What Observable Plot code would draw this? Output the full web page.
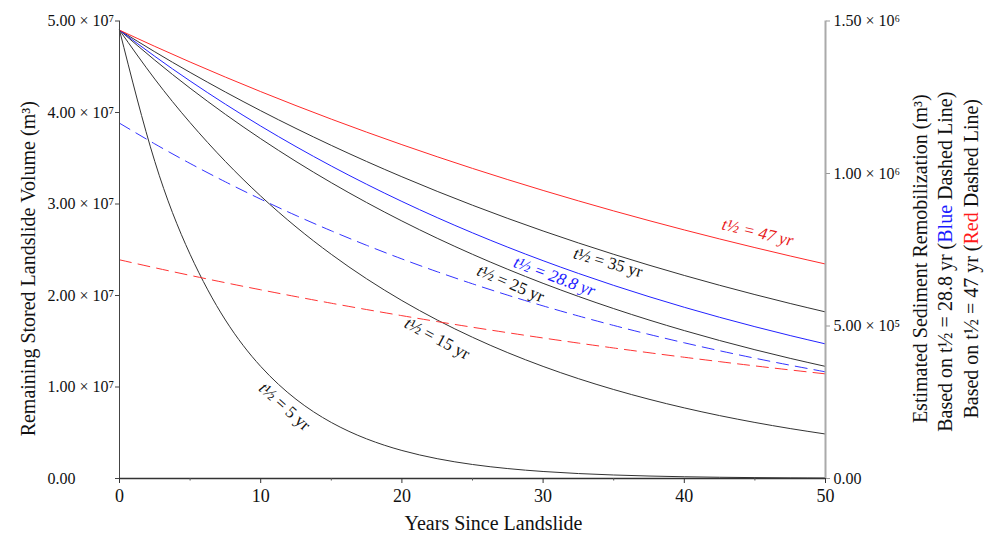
<!DOCTYPE html>
<html><head><meta charset="utf-8">
<script src="https://cdn.jsdelivr.net/npm/d3@7"></script>
<script src="https://cdn.jsdelivr.net/npm/@observablehq/plot@0.6"></script>
<style>body{margin:0;background:#fff} svg{font-family:"Liberation Serif",serif}</style>
</head><body><div id="chart"></div>
<script>
// ---- data ----
const years = [0,2.5,5,7.5,10,12.5,15,17.5,20,22.5,25,27.5,30,32.5,35,37.5,40,42.5,45,47.5,50];
// remaining stored volume, units of 1e7 m3
const vol5   = [4.900,3.465,2.450,1.732,1.225,0.8662,0.6125,0.4331,0.3063,0.2166,0.1531,0.1083,0.0766,0.0541,0.0383,0.0271,0.0191,0.0135,0.0096,0.0068,0.0048];
const vol15  = [4.900,4.3654,3.8891,3.4648,3.0868,2.7500,2.4500,2.1827,1.9446,1.7324,1.5434,1.3750,1.2250,1.0913,0.9723,0.8662,0.7717,0.6875,0.6125,0.5457,0.4861];
const vol25  = [4.900,4.5719,4.2657,3.9800,3.7135,3.4648,3.2328,3.0163,2.8143,2.6258,2.4500,2.2859,2.1328,1.9900,1.8568,1.7324,1.6164,1.5082,1.4072,1.3129,1.2250];
const vol288 = [4.900,4.6139,4.3444,4.0908,3.8519,3.6270,3.4152,3.2157,3.0279,2.8511,2.6846,2.5279,2.3803,2.2413,2.1104,1.9872,1.8711,1.7618,1.6590,1.5621,1.4709];
const vol35  = [4.900,4.6633,4.4381,4.2237,4.0197,3.8255,3.6407,3.4648,3.2975,3.1382,2.9866,2.8423,2.7050,2.5744,2.4500,2.3317,2.2190,2.1118,2.0098,1.9127,1.8204];
const vol47  = [4.900,4.7226,4.5517,4.3869,4.2281,4.0751,3.9276,3.7854,3.6484,3.5163,3.3890,3.2663,3.1481,3.0342,2.9243,2.8185,2.7164,2.6181,2.5233,2.4320,2.3440];
// estimated sediment remobilization, units of 1e5 m3
const remobBlue = [11.65,10.970,10.329,9.726,9.158,8.623,8.120,7.646,7.199,6.779,6.383,6.010,5.659,5.329,5.018,4.725,4.449,4.189,3.944,3.714,3.497];
const remobRed  = [7.170,6.910,6.660,6.419,6.187,5.963,5.747,5.539,5.339,5.145,4.959,4.780,4.607,4.440,4.279,4.124,3.975,3.831,3.692,3.559,3.430];
// ticks
const xTicks = [0,10,20,30,40,50];
const xMinorTicks = [5,15,25,35,45];
const leftTicks = [0,1,2,3,4,5]; // 1e7
const leftTickLabels = ["0.00","1.00 × 10⁷","2.00 × 10⁷","3.00 × 10⁷","4.00 × 10⁷","5.00 × 10⁷"];
const rightTicks = [0,5,10,15]; // 1e5
const rightTickLabels = ["0.00","5.00 × 10⁵","1.00 × 10⁶","1.50 × 10⁶"];
const labelTexts = ["t½ = 47 yr","t½ = 35 yr","t½ = 28.8 yr","t½ = 25 yr","t½ = 15 yr","t½ = 5 yr"];
const xTitle = "Years Since Landslide";
const leftTitle = "Remaining Stored Landslide Volume (m³)";
const rightTitles = ["Estimated Sediment Remobilization (m³)","Based on t½ = 28.8 yr (Blue Dashed Line)","Based on t½ = 47 yr (Red Dashed Line)"];

// ---- annotation placement (layout) ----
const labelPlace = [
  {t:45.2, v:2.689, r:13.5, color:"#e8201c", italic:true},
  {t:34.6, v:2.361, r:16,   color:"#111", italic:false},
  {t:30.8, v:2.208, r:20.5, color:"#1a1aff", italic:true},
  {t:27.7, v:2.131, r:23,   color:"#111", italic:false},
  {t:22.5, v:1.530, r:28,   color:"#111", italic:false},
  {t:11.7, v:0.787, r:42,   color:"#111", italic:false}
];

const k = 5e7 / 1.5e6; // right-axis units -> left-axis units
const Y7 = (arr) => (d, i) => arr[i] * 1e7;
const YR = (arr) => (d, i) => arr[i] * 1e5 * k;
const lineOpts = {x: d => d, curve: "natural", strokeWidth: 1};

const marks = [
  // curves
  Plot.line(years, {...lineOpts, y: Y7(vol5),   stroke: "#333"}),
  Plot.line(years, {...lineOpts, y: Y7(vol15),  stroke: "#333"}),
  Plot.line(years, {...lineOpts, y: Y7(vol25),  stroke: "#333"}),
  Plot.line(years, {...lineOpts, y: Y7(vol35),  stroke: "#333"}),
  Plot.line(years, {...lineOpts, y: Y7(vol288), stroke: "#2222ff"}),
  Plot.line(years, {...lineOpts, y: Y7(vol47),  stroke: "#ff2a2a"}),
  Plot.line(years, {...lineOpts, y: YR(remobBlue), stroke: "#3333ff", strokeDasharray: "12,7"}),
  Plot.line(years, {...lineOpts, y: YR(remobRed),  stroke: "#ff3333", strokeDasharray: "12,7"}),
  // axes lines
  Plot.ruleX([50], {stroke: "#aaa", strokeWidth: 2}),
  Plot.ruleX([0], {stroke: "#444", strokeWidth: 1}),
  Plot.ruleY([0], {stroke: "#333", strokeWidth: 1.3}),
  Plot.axisX({ticks: xTicks, tickSize: 5, tickPadding: 6, fontSize: 18, label: null, stroke: "#333"}),
  Plot.axisX({ticks: xMinorTicks, tickSize: 2.5, tickFormat: () => "", label: null, stroke: "#555"}),
  Plot.axisY({ticks: leftTicks.map(d => d * 1e7), tickSize: 4, tickFormat: () => "", label: null, stroke: "#444"}),
  Plot.axisY({anchor: "right", ticks: rightTicks.map(d => d * 1e5 * k), tickSize: 4, tickFormat: () => "", label: null, stroke: "#999"}),
  Plot.text(leftTicks, {frameAnchor: "left", y: d => d * 1e7, text: (d, i) => leftTickLabels[i], textAnchor: "start", dx: -72, fontSize: 16, fill: "#111"}),
  Plot.text(rightTicks, {frameAnchor: "right", y: d => d * 1e5 * k, text: (d, i) => rightTickLabels[i], textAnchor: "start", dx: 8, fontSize: 16, fill: "#111"}),
  // titles
  Plot.text([xTitle], {frameAnchor: "bottom", textAnchor: "middle", dx: 21, dy: 51, fontSize: 20, fill: "#111"}),
  Plot.text([leftTitle], {frameAnchor: "left", textAnchor: "middle", rotate: -90, dx: -91, dy: 19, fontSize: 20, fill: "#111"}),
  Plot.text([rightTitles[0]], {frameAnchor: "right", textAnchor: "middle", rotate: -90, dx: 95, dy: 9, fontSize: 20, fill: "#111"}),
  Plot.text([rightTitles[1]], {frameAnchor: "right", textAnchor: "middle", rotate: -90, dx: 120, dy: 12, fontSize: 20, fill: "#111"}),
  Plot.text([rightTitles[2]], {frameAnchor: "right", textAnchor: "middle", rotate: -90, dx: 146, dy: 9, fontSize: 20, fill: "#111"})
];
labelTexts.forEach((txt, i) => {
  const p = labelPlace[i];
  marks.push(Plot.text([txt], {x: () => p.t, y: () => p.v * 1e7, rotate: p.r, fontSize: 17,
    fill: p.color, fontStyle: p.italic ? "italic" : "normal", className: "curvelabel"}));
});

const chart = Plot.plot({
  width: 986, height: 537,
  marginLeft: 119, marginRight: 161, marginTop: 20.5, marginBottom: 59,
  x: {domain: [0, 50], label: null},
  y: {domain: [0, 5e7], label: null},
  style: {fontFamily: "'Liberation Serif', serif", background: "#fff", color: "#111", overflow: "visible"},
  marks
});
document.getElementById("chart").appendChild(chart);

// rich text: italic "t" in curve labels, coloured words in right titles
d3.select(chart).selectAll("text").each(function() {
  const el = d3.select(this);
  const s = this.textContent;
  if (s.startsWith("t½")) {
    el.text("");
    el.append("tspan").attr("font-style", "italic").text("t");
    el.append("tspan").text(s.slice(1));
  } else if (s.includes("(Blue ") || s.includes("(Red ")) {
    const word = s.includes("(Blue ") ? "Blue" : "Red";
    const color = word === "Blue" ? "#1a1aff" : "#ff1a1a";
    const [a, b] = s.split(word);
    el.text("");
    el.append("tspan").text(a);
    el.append("tspan").attr("fill", color).text(word);
    el.append("tspan").text(b);
  }
});
</script></body></html>
